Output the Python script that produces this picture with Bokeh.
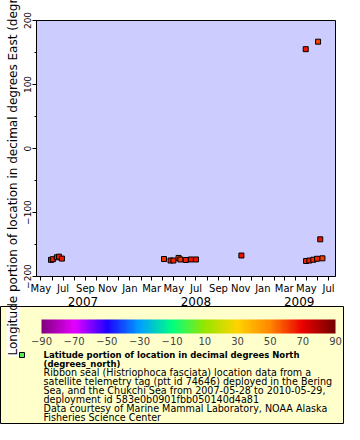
import numpy as np
import pandas as pd
from bokeh.plotting import figure
from bokeh.models import (ColumnDataSource, FixedTicker, LinearAxis, ColorBar,
                          LinearColorMapper, Range1d, AllLabels)
from bokeh.embed import file_html
from bokeh.resources import INLINE

# ---------------- data ----------------
obs_time = ["2007-05-29", "2007-06-03", "2007-06-14", "2007-06-20", "2007-06-28",
            "2008-04-04", "2008-04-22", "2008-04-30", "2008-05-14", "2008-05-19",
            "2008-06-03", "2008-06-17", "2008-07-01",
            "2008-11-03",
            "2009-04-29", "2009-04-30", "2009-05-09", "2009-05-20", "2009-05-30",
            "2009-06-02", "2009-06-08", "2009-06-14"]
lon_east = [-174, -173, -170, -169, -172,
            -172.7, -175, -175, -171, -173.4,
            -174.2, -173.4, -173.4,
            -167.2,
            155.2, -175.8, -175, -173.8, -172.3,
            166.9, -141.9, -171.6]
lat_north = [64, 66, 63, 65, 66,
             62, 66, 64, 60, 62,
             65, 67, 67,
             67,
             66, 64, 66, 63, 65,
             60, 67, 61]

month_tick_dates = list(pd.date_range("2007-05-01", "2009-07-01", freq="MS").strftime("%Y-%m-%d"))
month_tick_labels = ["May", "", "Jul", "", "Sep", "", "Nov", "", "Jan", "", "Mar", "",
                     "May", "", "Jul", "", "Sep", "", "Nov", "", "Jan", "", "Mar", "",
                     "May", "", "Jul"]
year_labels = ["2007", "2008", "2009"]
year_label_dates = ["2007-08-25", "2008-07-01", "2009-04-11"]
y_ticks = [-200, -100, 0, 100, 200]
y_minor_ticks = [-150, -50, 50, 150]
cbar_ticks = [-90, -70, -50, -30, -10, 10, 30, 50, 70, 90]

y_label = "Longitude portion of location in decimal degrees East (degrees_east)"
legend_title = ["Latitude portion of location in decimal degrees North",
                "(degrees_north)"]
legend_lines = ["Ribbon seal (Histriophoca fasciata) location data from a",
                "satellite telemetry tag (ptt id 74646) deployed in the Bering",
                "Sea, and the Chukchi Sea from 2007-05-28 to 2010-05-29,",
                "deployment id 583e0b0901fbb050140d4a81",
                "Data courtesy of Marine Mammal Laboratory, NOAA Alaska",
                "Fisheries Science Center"]


def ms(d):
    return int(pd.Timestamp(d).value // 10**6)


# ---------------- palette (style) ----------------
anchors = [(-90, (128, 0, 128)), (-70, (230, 0, 255)), (-50, (30, 0, 255)),
           (-30, (0, 160, 255)), (-10, (0, 255, 130)), (10, (150, 230, 0)),
           (30, (255, 212, 0)), (50, (255, 135, 0)), (70, (235, 0, 0)),
           (90, (115, 0, 0))]
av = np.array([a[0] for a in anchors], dtype=float)
ac = np.array([a[1] for a in anchors], dtype=float)
vals = np.linspace(-90, 90, 256)
palette = ["#%02x%02x%02x" % tuple(int(round(np.interp(v, av, ac[:, k]))) for k in range(3))
           for v in vals]
mapper = LinearColorMapper(palette=palette, low=-90, high=90)

FONT = "DejaVu Sans"
BOX_FILL = "#ffffcc"

src = ColumnDataSource(dict(t=[ms(d) for d in obs_time], lon=lon_east, lat=lat_north))

p = figure(width=344, height=424, output_backend="svg", toolbar_location=None,
           x_range=Range1d(ms("2007-04-19"), ms("2009-07-20")),
           y_range=Range1d(-200, 200),
           min_border_left=36, min_border_right=9, min_border_top=20, min_border_bottom=148,
           x_axis_type=None, y_axis_type=None)
p.background_fill_color = "#ccccff"
p.border_fill_color = "white"
p.outline_line_color = "black"
p.outline_line_width = 1
p.grid.visible = False


def blank_bar(**kw):
    """A colour bar used only as a frame / text holder in the legend box."""
    base = dict(color_mapper=LinearColorMapper(palette=[BOX_FILL], low=0, high=1),
                orientation="horizontal", ticker=FixedTicker(ticks=[]),
                scale_alpha=0, padding=0, bar_line_color=None,
                border_line_color=None, background_fill_color=None,
                major_tick_line_color=None, minor_tick_line_color=None,
                major_tick_out=0, major_tick_in=0, label_standoff=0,
                major_label_policy=AllLabels(),
                major_label_text_font=FONT, major_label_text_color="black")
    base.update(kw)
    return ColorBar(**base)


# legend box fill, in pieces that leave the y-axis title readable
for w, h, loc in [(6, 117, (-36, -147)), (324, 117, (-17, -147)), (13, 67, (-30, -147))]:
    p.add_layout(blank_bar(width=w, height=h, location=loc,
                           background_fill_color=BOX_FILL, background_fill_alpha=1), "center")
# legend box border
p.add_layout(blank_bar(width=343, height=117, location=(-36, -147),
                       border_line_color="black", border_line_width=1), "center")

# y axis
yax = LinearAxis(ticker=FixedTicker(ticks=y_ticks, minor_ticks=y_minor_ticks))
yax.major_label_orientation = "vertical"
yax.major_label_text_font = FONT
yax.major_label_text_font_size = "9px"
yax.major_label_text_color = "black"
yax.major_label_standoff = 2
yax.major_tick_out = 4
yax.major_tick_in = 0
yax.minor_tick_out = 2
yax.minor_tick_in = 0
yax.axis_line_color = "black"
yax.axis_label = y_label
yax.axis_label_text_font = FONT
yax.axis_label_text_font_size = "12px"
yax.axis_label_text_font_style = "normal"
yax.axis_label_text_color = "black"
yax.axis_label_standoff = 1
p.add_layout(yax, "left")

# x axis (months)
mt = [ms(d) for d in month_tick_dates]
xax = LinearAxis(ticker=FixedTicker(ticks=mt, minor_ticks=[]))
xax.major_label_overrides = {t: lab for t, lab in zip(mt, month_tick_labels)}
xax.major_label_text_font = FONT
xax.major_label_text_font_size = "10px"
xax.major_label_text_color = "black"
xax.major_label_standoff = 2
xax.major_tick_out = 4
xax.major_tick_in = 0
xax.axis_line_color = "black"
p.add_layout(xax, "below")

# year axis
yt = [ms(d) for d in year_label_dates]
yrax = LinearAxis(ticker=FixedTicker(ticks=yt, minor_ticks=[]))
yrax.major_label_overrides = {t: lab for t, lab in zip(yt, year_labels)}
yrax.major_label_text_font = FONT
yrax.major_label_text_font_size = "12px"
yrax.major_label_text_color = "black"
yrax.major_label_standoff = 0
yrax.major_tick_line_color = None
yrax.major_tick_out = 0
yrax.axis_line_color = None
p.add_layout(yrax, "below")

# data
p.scatter("t", "lon", source=src, marker="square", size=5,
          fill_color={"field": "lat", "transform": mapper},
          line_color="black", line_width=1)

# colour bar
cb = ColorBar(color_mapper=mapper, orientation="horizontal", width=294, height=14,
              location=(5, -71), padding=0,
              ticker=FixedTicker(ticks=cbar_ticks), major_tick_line_color=None,
              bar_line_color=None, border_line_color=None, background_fill_color=None,
              major_label_text_font=FONT, major_label_text_font_size="10px",
              label_standoff=3)
p.add_layout(cb, "center")

# legend marker (small green square)
sq = ColorBar(color_mapper=LinearColorMapper(palette=["#55ee55"], low=0, high=1),
              orientation="horizontal", width=5, height=5, location=(-17, -81), padding=0,
              ticker=FixedTicker(ticks=[]), major_tick_line_color=None,
              bar_line_color="black", bar_line_width=1,
              border_line_color=None, background_fill_color=None, label_standoff=0)
p.add_layout(sq, "center")

# legend title (bold), one text row per tick of an invisible vertical bar
n_t = len(legend_title)
title_bar = blank_bar(color_mapper=LinearColorMapper(palette=[BOX_FILL], low=-0.5, high=n_t - 0.5),
                      orientation="vertical", width=1, height=9 * n_t,
                      location=(6, -91.5),
                      ticker=FixedTicker(ticks=list(range(n_t))),
                      major_label_overrides={n_t - 1 - i: t for i, t in enumerate(legend_title)},
                      major_label_text_font_size="8.5px", major_label_text_font_style="bold")
p.add_layout(title_bar, "center")

# legend description lines
n_l = len(legend_lines)
text_bar = blank_bar(color_mapper=LinearColorMapper(palette=[BOX_FILL], low=-0.5, high=n_l - 0.5),
                     orientation="vertical", width=1, height=9 * n_l,
                     location=(6, -145.5),
                     ticker=FixedTicker(ticks=list(range(n_l))),
                     major_label_overrides={n_l - 1 - i: t for i, t in enumerate(legend_lines)},
                     major_label_text_font_size="9.6px")
p.add_layout(text_bar, "center")

open("out.html", "w").write(file_html(p, INLINE))
